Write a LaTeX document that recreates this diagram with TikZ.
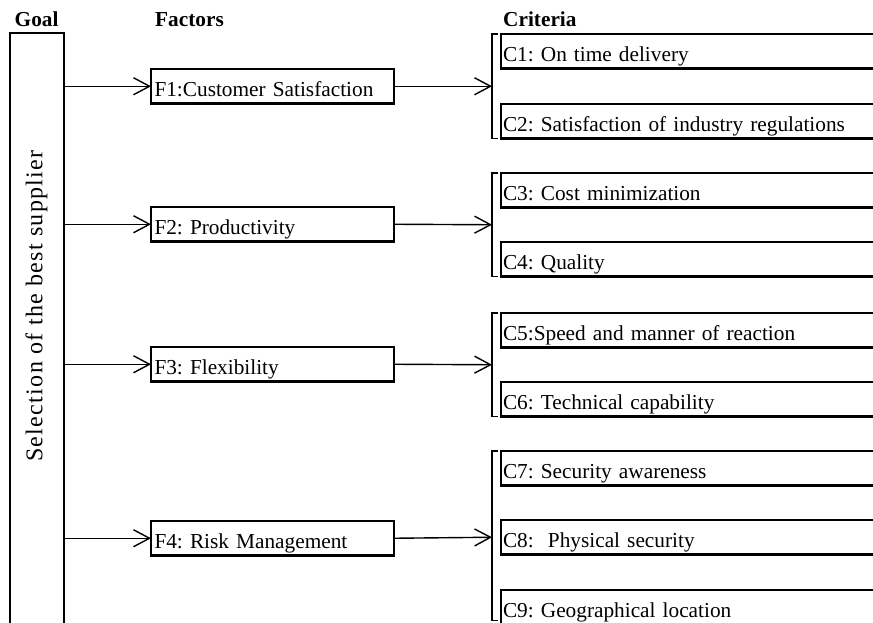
\documentclass[tikz,border=0pt]{standalone}
\usepackage{fontspec}
\setmainfont{Liberation Serif}
\usetikzlibrary{arrows.meta,calc}
\begin{document}
\frenchspacing
\begin{tikzpicture}[x=1pt,y=-1pt,
  every node/.style={font=\fontsize{21.3}{25}\selectfont},
  box/.style={draw,line width=2.6pt,outer sep=0pt,inner ysep=0pt,text height=27.5pt,text depth=7pt,align=left,anchor=north west},
  fbox/.style={box,inner xsep=3.5pt,text width=236pt},
  cbox/.style={box,inner xsep=2pt,text width=396pt},
  arr/.style={line width=1.4pt,-{Straight Barb[length=16pt,width=17pt,line width=1.4pt]}},
  brk/.style={line width=1.5pt},
  head/.style={font=\fontsize{21.3}{25}\selectfont\bfseries,anchor=base west,inner sep=0pt}
]
\useasboundingbox (0,0) rectangle (873,623);
\clip (0,0) rectangle (873,623);

% headers
\node[head] (hgoal) at (14.5,27) {Goal};
\node[head] (hfac) at (155,27) {Factors};
\node[head] (hcrit) at (503,27) {Criteria};

% goal
\node[draw,line width=2.6pt,outer sep=0pt,inner sep=0pt,minimum width=54pt,minimum height=640pt,anchor=north west] (goal) at (10,33) {};
\node[rotate=90,inner sep=0pt,font=\fontsize{24}{28}\selectfont\addfontfeature{LetterSpace=5.5}] (gtext) at (36.5,306) {Selection of the best supplier};

% factors
\node[fbox] (f1) at (151,69) {F1:Customer Satisfaction};
\node[fbox] (f2) at (151,207) {F2: Productivity};
\node[fbox] (f3) at (151,347) {F3: Flexibility};
\node[fbox] (f4) at (151,521) {F4: Risk Management};

% criteria
\node[cbox] (c1) at (501,34) {C1: On time delivery};
\node[cbox] (c2) at (501,104) {C2: Satisfaction of industry regulations};
\node[cbox] (c3) at (501,173) {C3: Cost minimization};
\node[cbox] (c4) at (501,242) {C4: Quality};
\node[cbox] (c5) at (501,313) {C5:Speed and manner of reaction};
\node[cbox] (c6) at (501,382) {C6: Technical capability};
\node[cbox] (c7) at (501,451) {C7: Security awareness};
\node[cbox] (c8) at (501,520) {C8:~~Physical security};
\node[cbox] (c9) at (501,590) {C9: Geographical location};

% brackets
\draw[brk] ([xshift=-3pt]c1.north west) -| ([xshift=-9pt]c2.south west) -- ([xshift=-3pt]c2.south west);
\draw[brk] ([xshift=-3pt]c3.north west) -| ([xshift=-9pt]c4.south west) -- ([xshift=-3pt]c4.south west);
\draw[brk] ([xshift=-3pt]c5.north west) -| ([xshift=-9pt]c6.south west) -- ([xshift=-3pt]c6.south west);
\draw[brk] ([xshift=-3pt]c7.north west) -| ([shift={(-9pt,4pt)}]c9.south west) -- ([shift={(-3pt,4pt)}]c9.south west);

\coordinate (b1) at ($(c1.north west)!0.5!(c2.south west)+(-9,0)$);
\coordinate (b2) at ($(c3.north west)!0.5!(c4.south west)+(-9,0)$);
\coordinate (b3) at ($(c5.north west)!0.5!(c6.south west)+(-9,0)$);
\coordinate (b4) at ($(c8.west)+(-9,0)$);

% connectors
\foreach \i in {1,2,3,4}{
  \draw[arr] (goal.east |- f\i.west) -- (f\i.west);
  \draw[arr] (f\i.east) -- (b\i);
}
\end{tikzpicture}
\end{document}
